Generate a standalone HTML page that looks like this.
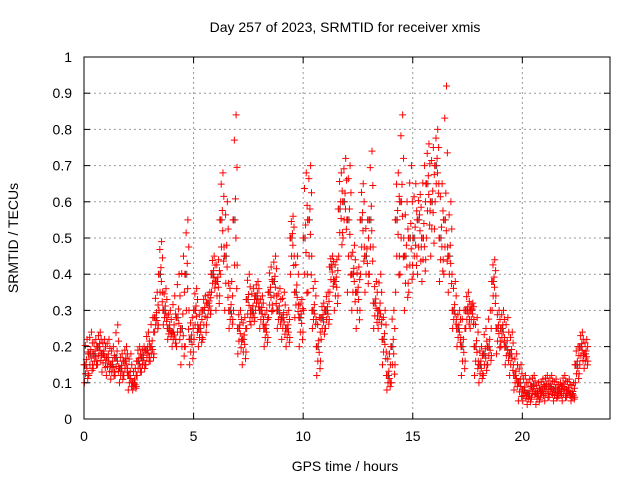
<!DOCTYPE html>
<html><head><meta charset="utf-8"><style>
body{margin:0;background:#fff;}
svg text{font-family:"Liberation Sans",sans-serif;font-size:14px;fill:#000;}
</style></head><body>
<svg id="chart" width="640" height="480" xmlns="http://www.w3.org/2000/svg">
<rect width="640" height="480" fill="#fff"/>
<text x="345" y="32" text-anchor="middle">Day 257 of 2023, SRMTID for receiver xmis</text>
<text x="345" y="471" text-anchor="middle">GPS time / hours</text>
<text transform="translate(18,238) rotate(-90)" text-anchor="middle">SRMTID / TECUs</text>
<g id="grid"></g><g id="marks"></g>
<rect x="84" y="57" width="526" height="362" fill="none" stroke="#000" stroke-width="1"/>
<g id="ticks"></g>
</svg>
<script>
const times=[0.0,0.2,0.4,0.6,0.8,1.0,1.2,1.4,1.6,1.8,2.0,2.2,2.4,2.6,2.8,3.0,3.2,3.4,3.6,3.8,4.0,4.2,4.4,4.6,4.8,5.0,5.2,5.4,5.6,5.8,6.0,6.2,6.4,6.6,6.8,7.0,7.2,7.4,7.6,7.8,8.0,8.2,8.4,8.6,8.8,9.0,9.2,9.4,9.6,9.8,10.0,10.2,10.4,10.6,10.8,11.0,11.2,11.4,11.6,11.8,12.0,12.2,12.4,12.6,12.8,13.0,13.2,13.4,13.6,13.8,14.0,14.2,14.4,14.6,14.8,15.0,15.2,15.4,15.6,15.8,16.0,16.2,16.4,16.6,16.8,17.0,17.2,17.4,17.6,17.8,18.0,18.2,18.4,18.6,18.8,19.0,19.2,19.4,19.6,19.8,20.0,20.2,20.4,20.6,20.8,21.0,21.2,21.4,21.6,21.8,22.0,22.2,22.4,22.6,22.8];
const lowVals=[.10,.12,.14,.15,.13,.12,.11,.12,.10,.12,.08,.08,.12,.13,.15,.16,.24,.30,.26,.22,.20,.20,.15,.20,.15,.22,.20,.22,.28,.35,.30,.40,.30,.25,.30,.18,.15,.25,.26,.30,.25,.20,.28,.30,.25,.22,.20,.40,.28,.20,.30,.35,.25,.12,.22,.25,.35,.30,.45,.50,.35,.30,.25,.40,.35,.40,.25,.25,.15,.08,.10,.35,.40,.30,.35,.40,.40,.38,.50,.45,.60,.38,.40,.35,.25,.20,.12,.25,.25,.12,.10,.12,.15,.30,.18,.20,.15,.12,.08,.05,.05,.04,.06,.04,.06,.05,.06,.05,.06,.05,.06,.05,.10,.15,.14];
const midVals=[.15,.18,.18,.20,.18,.17,.15,.17,.14,.16,.12,.10,.16,.17,.19,.20,.28,.40,.30,.25,.24,.28,.25,.40,.22,.30,.25,.30,.32,.40,.38,.55,.45,.30,.55,.25,.22,.33,.30,.34,.30,.25,.35,.38,.30,.28,.25,.50,.35,.28,.50,.55,.30,.20,.28,.30,.42,.38,.58,.60,.55,.40,.35,.55,.45,.55,.32,.30,.22,.12,.20,.55,.60,.45,.50,.50,.55,.50,.65,.60,.70,.50,.55,.45,.30,.25,.20,.30,.30,.20,.15,.18,.20,.38,.25,.25,.20,.18,.12,.10,.08,.07,.09,.07,.08,.09,.09,.08,.08,.09,.08,.07,.15,.20,.18];
const highVals=[.22,.24,.22,.24,.22,.22,.20,.26,.18,.20,.18,.14,.20,.20,.24,.28,.35,.49,.36,.30,.34,.40,.45,.55,.28,.36,.30,.34,.35,.45,.44,.68,.60,.38,.84,.30,.28,.40,.36,.38,.34,.30,.42,.45,.36,.35,.30,.56,.45,.33,.68,.70,.38,.28,.32,.35,.45,.44,.68,.72,.70,.48,.42,.65,.55,.74,.38,.40,.30,.18,.30,.68,.84,.60,.70,.65,.62,.70,.76,.75,.80,.65,.92,.60,.38,.30,.30,.35,.32,.28,.20,.25,.30,.44,.30,.30,.28,.24,.18,.15,.12,.11,.12,.10,.11,.12,.12,.11,.10,.12,.11,.10,.20,.24,.22];
const xTicks=[0,5,10,15,20];
const yTicks=[0,0.1,0.2,0.3,0.4,0.5,0.6,0.7,0.8,0.9,1];
const X0=84,X1=610,Y0=419,Y1=57,XMAX=24;
const xs=v=>X0+(X1-X0)*v/XMAX, ys=v=>Y0-(Y0-Y1)*v;
const NS="http://www.w3.org/2000/svg";
const mk=(t,a,p)=>{const e=document.createElementNS(NS,t);for(const k in a)e.setAttribute(k,a[k]);p.appendChild(e);return e;};
const grid=document.getElementById('grid'),ticks=document.getElementById('ticks'),marks=document.getElementById('marks');
xTicks.forEach(t=>{const x=xs(t);
 const g=mk('line',{x1:x,x2:x,y1:Y1,y2:Y0,stroke:'#999','stroke-dasharray':'2,3','stroke-width':1},grid);
 
 mk('line',{x1:x,x2:x,y1:Y0,y2:Y0-6,stroke:'#000'},ticks);mk('line',{x1:x,x2:x,y1:Y1,y2:Y1+6,stroke:'#000'},ticks);
 const l=mk('text',{x:x,y:Y0+22,'text-anchor':'middle'},ticks);l.textContent=t;
 });
yTicks.forEach(t=>{const y=ys(t);
 const g=mk('line',{x1:X0,x2:X1,y1:y,y2:y,stroke:'#999','stroke-dasharray':'2,3','stroke-width':1},grid);
 
 mk('line',{x1:X0,x2:X0+6,y1:y,y2:y,stroke:'#000'},ticks);mk('line',{x1:X1,x2:X1-6,y1:y,y2:y,stroke:'#000'},ticks);
 const l=mk('text',{x:X0-12,y:y+5,'text-anchor':'end'},ticks);l.textContent=t;
 });
function plus(v,t,col){const x=xs(t),y=ys(v);
 const p=mk('path',{d:`M${x-3.5},${y}h7M${x},${y-3.5}v7`,stroke:col,'stroke-width':1,fill:'none'},marks);
 }
const fr=[0,0.12,0.25,0.4,0.5,0.6,0.75,0.88,1], dx=[0.02,0.17,0.07,0.13,0.03,0.11,0.18,0.06,0.14];
times.forEach((t,i)=>{
 const lo=lowVals[i],mi=midVals[i],hi=highVals[i];
 plus(mi,t+0.09,'#444');
 fr.forEach((f,j)=>{const v=f<0.5?lo+(mi-lo)*f*2:mi+(hi-mi)*(f-0.5)*2;plus(v,t+dx[j],'#f00');});
 plus((lo+mi)/2,t+0.19,'#f00');plus(mi,t+0.0,'#f00');
});
</script>
</body></html>
